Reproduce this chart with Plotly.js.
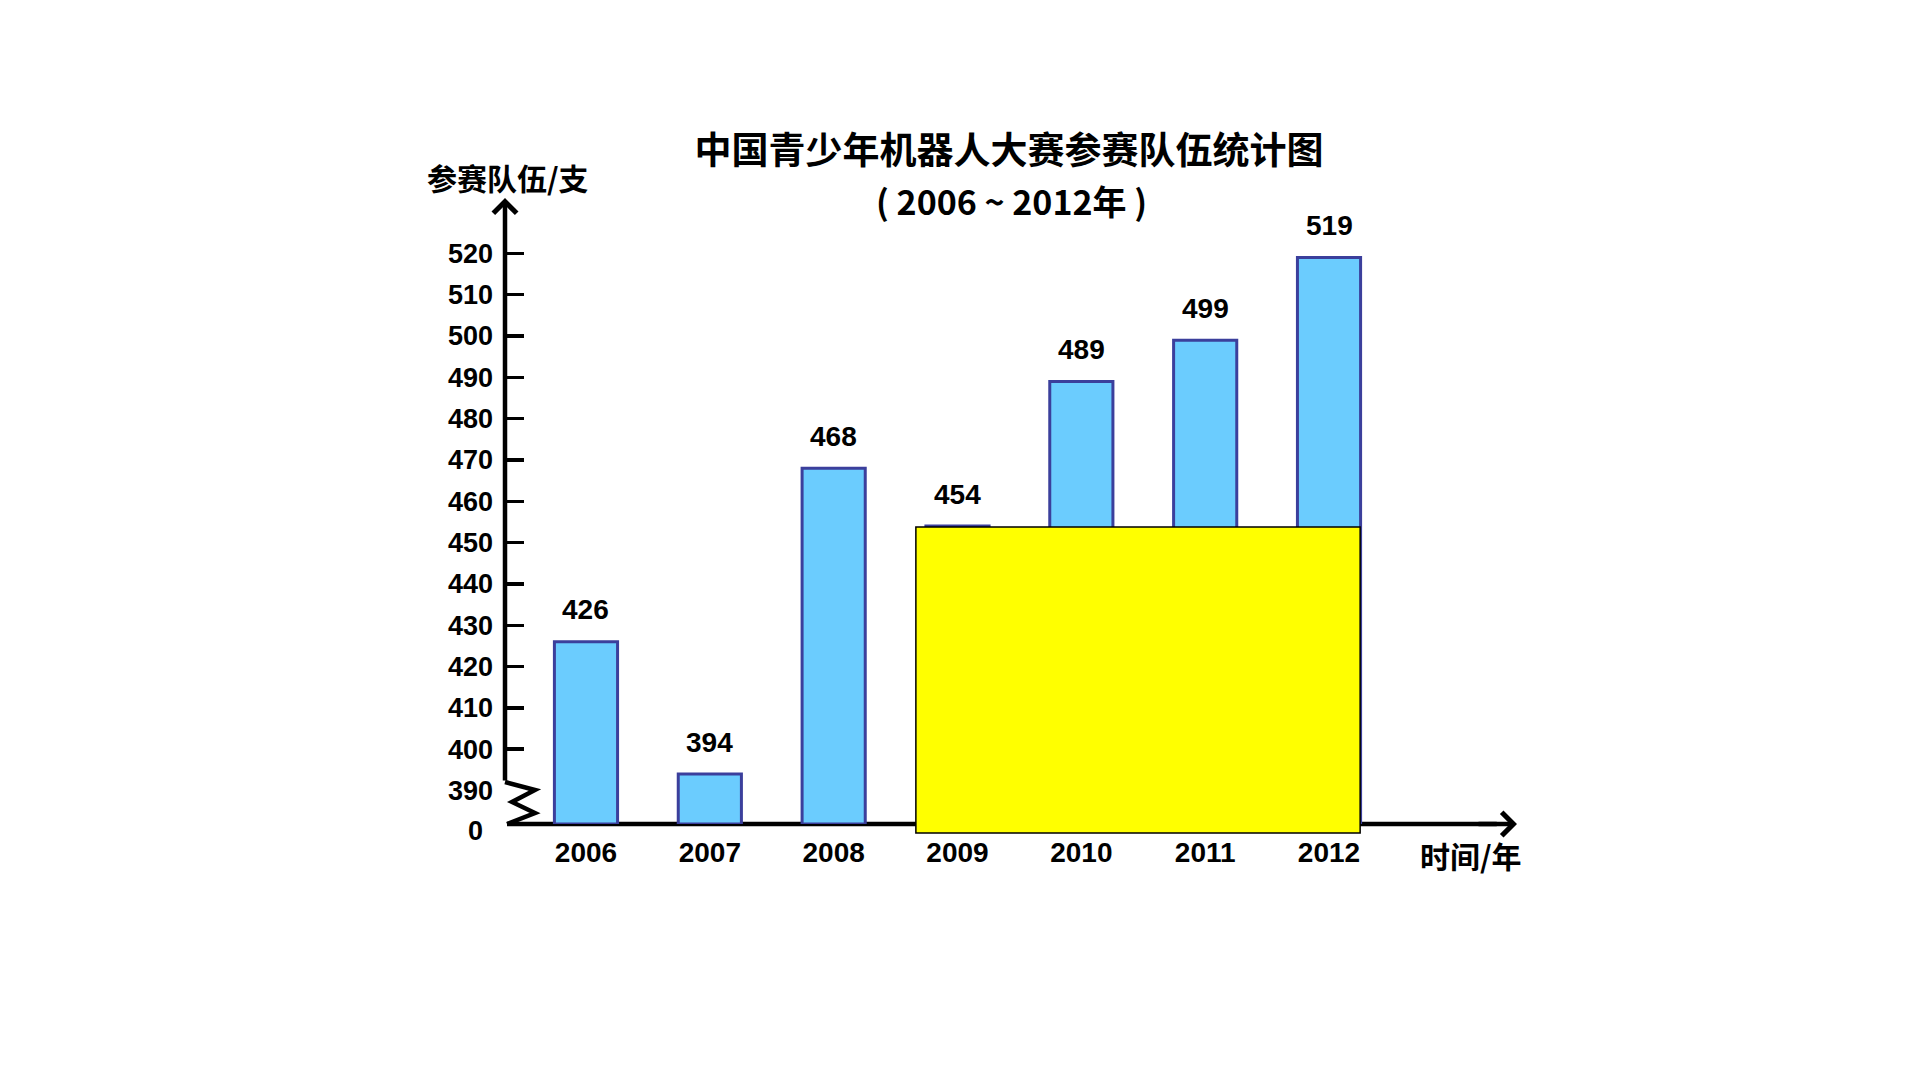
<!DOCTYPE html>
<html>
<head>
<meta charset="utf-8">
<script src="https://cdn.plot.ly/plotly-3.0.1.min.js"></script>
<style>html,body{margin:0;padding:0;background:#fff;}#chart{width:1920px;height:1080px;}</style>
</head>
<body>
<div id="chart"></div>
<script>
// ---- data ----
const years = ["2006", "2007", "2008", "2009", "2010", "2011", "2012"];
const teams = [426, 394, 468, 454, 489, 499, 519];
const yTickVals = [400, 410, 420, 430, 440, 450, 460, 470, 480, 490, 500, 510, 520];
const yBreakTick = [390];
const yBaseLabel = "0";
const titleLine1 = "中国青少年机器人大赛参赛队伍统计图";
const titleLine2 = "( 2006 ~ 2012年 )";
const yTitle = "参赛队伍/支";
const xTitle = "时间/年";

// ---- layout constants ----
const yBase = 381.9;          // value at the broken-axis baseline
const yRange = [yBase, 533.4];
const xRange = [-0.654, 7.518];

const numFont = "Liberation Sans, Arial, sans-serif";
const cjkFont = "Noto Sans CJK SC, sans-serif";

const barTrace = {
  type: "bar",
  x: years,
  y: teams.map(v => v - yBase),
  base: yBase,
  width: 0.51,
  marker: {color: "#6BCCFE", line: {color: "#3B3F9C", width: 3}},
  hoverinfo: "skip",
  showlegend: false
};

// invisible trace to activate second y axis (for the "390" label without tick)
const dummy = {
  type: "scatter", x: [years[0]], y: [yBase], yaxis: "y2",
  mode: "markers", marker: {opacity: 0}, showlegend: false, hoverinfo: "skip"
};

const valueLabels = years.map((yr, i) => ({
  x: i, y: teams[i], xref: "x", yref: "y",
  text: String(teams[i]), showarrow: false,
  xanchor: "center", yanchor: "middle", yshift: 32,
  font: {family: numFont, size: 28, color: "#000", weight: "bold"}
}));

const annotations = valueLabels.concat([
  // title line 2
  {xref: "paper", yref: "paper", x: 0.5, y: 1, yshift: -2, text: titleLine2,
   showarrow: false, xanchor: "center", yanchor: "middle",
   font: {family: cjkFont, size: 34, color: "#000", weight: "bold"}},
  // y axis title
  {xref: "paper", yref: "paper", x: 0.003, y: 1, yshift: 21, text: yTitle,
   showarrow: false, xanchor: "center", yanchor: "middle",
   font: {family: cjkFont, size: 30, color: "#000", weight: "bold"}},
  // x axis title
  {xref: "paper", yref: "paper", x: 0.955, y: 0, yshift: -31, text: xTitle,
   showarrow: false, xanchor: "center", yanchor: "middle",
   font: {family: cjkFont, size: 30, color: "#000", weight: "bold"}},
  // "0" label at broken baseline
  {xref: "paper", yref: "y", x: 0, y: yBase, xshift: -30, yshift: -7, text: yBaseLabel,
   showarrow: false, xanchor: "center", yanchor: "middle",
   font: {family: numFont, size: 27, color: "#000", weight: "bold"}},
  // y axis arrow
  {xref: "paper", yref: "paper", x: 0, y: 1, ax: 0, ay: 584, axref: "pixel", ayref: "pixel",
   text: "", showarrow: true, arrowhead: 4, arrowsize: 1, arrowwidth: 4.5, arrowcolor: "#000", standoff: 0},
  // x axis arrowhead
  {xref: "paper", yref: "paper", x: 1, y: 0, ax: -40, ay: 0, axref: "pixel", ayref: "pixel",
   text: "", showarrow: true, arrowhead: 4, arrowsize: 1, arrowwidth: 4.5, arrowcolor: "#000", standoff: 0}
]);

const shapes = [
  // x axis line (under bars)
  {type: "line", xref: "paper", yref: "paper", x0: 0.002, x1: 0.98, y0: 0, y1: 0,
   line: {color: "#000", width: 4.5}, layer: "below"},
  // zigzag break on y axis
  {type: "path", xref: "paper", yref: "paper", xsizemode: "pixel", ysizemode: "pixel",
   xanchor: 0, yanchor: 0,
   path: "M 0,42 L 30,34 L 7,22 L 30,11 L 2,0",
   line: {color: "#000", width: 4.5}, layer: "above"},
  // yellow cover box
  {type: "rect", xref: "paper", yref: "paper", x0: 0.406, x1: 0.845, y0: -0.0144, y1: 0.4744,
   fillcolor: "#FFFF00", line: {color: "#000", width: 1.5}, layer: "above"}
];

const layout = {
  width: 1920, height: 1080,
  margin: {l: 505, r: 403, t: 198, b: 256},
  paper_bgcolor: "#ffffff",
  plot_bgcolor: "rgba(0,0,0,0)",
  title: {
    text: titleLine1, xref: "paper", x: 0.498, xanchor: "center",
    yref: "container", y: 1 - 151 / 1080, yanchor: "middle",
    font: {family: cjkFont, size: 37, color: "#000", weight: "bold"}
  },
  xaxis: {
    type: "category", range: xRange, showgrid: false, zeroline: false, showline: false,
    ticks: "", tickfont: {family: numFont, size: 28, color: "#000", weight: "bold"},
    ticklabelstandoff: 9, fixedrange: true
  },
  yaxis: {
    range: yRange, tickmode: "array", tickvals: yTickVals, ticktext: yTickVals.map(String),
    showgrid: false, zeroline: false, showline: false,
    ticks: "inside", ticklen: 19, tickwidth: 3.5, tickcolor: "#000",
    tickfont: {family: numFont, size: 27, color: "#000", weight: "bold"},
    ticklabelstandoff: 11, fixedrange: true
  },
  yaxis2: {
    overlaying: "y", side: "left", range: yRange, tickmode: "array",
    tickvals: yBreakTick, ticktext: yBreakTick.map(String),
    showgrid: false, zeroline: false, showline: false, ticks: "",
    tickfont: {family: numFont, size: 27, color: "#000", weight: "bold"},
    ticklabelstandoff: 11, fixedrange: true
  },
  annotations: annotations,
  shapes: shapes,
  showlegend: false
};

Plotly.newPlot("chart", [barTrace, dummy], layout, {staticPlot: true, displayModeBar: false});
</script>
</body>
</html>
